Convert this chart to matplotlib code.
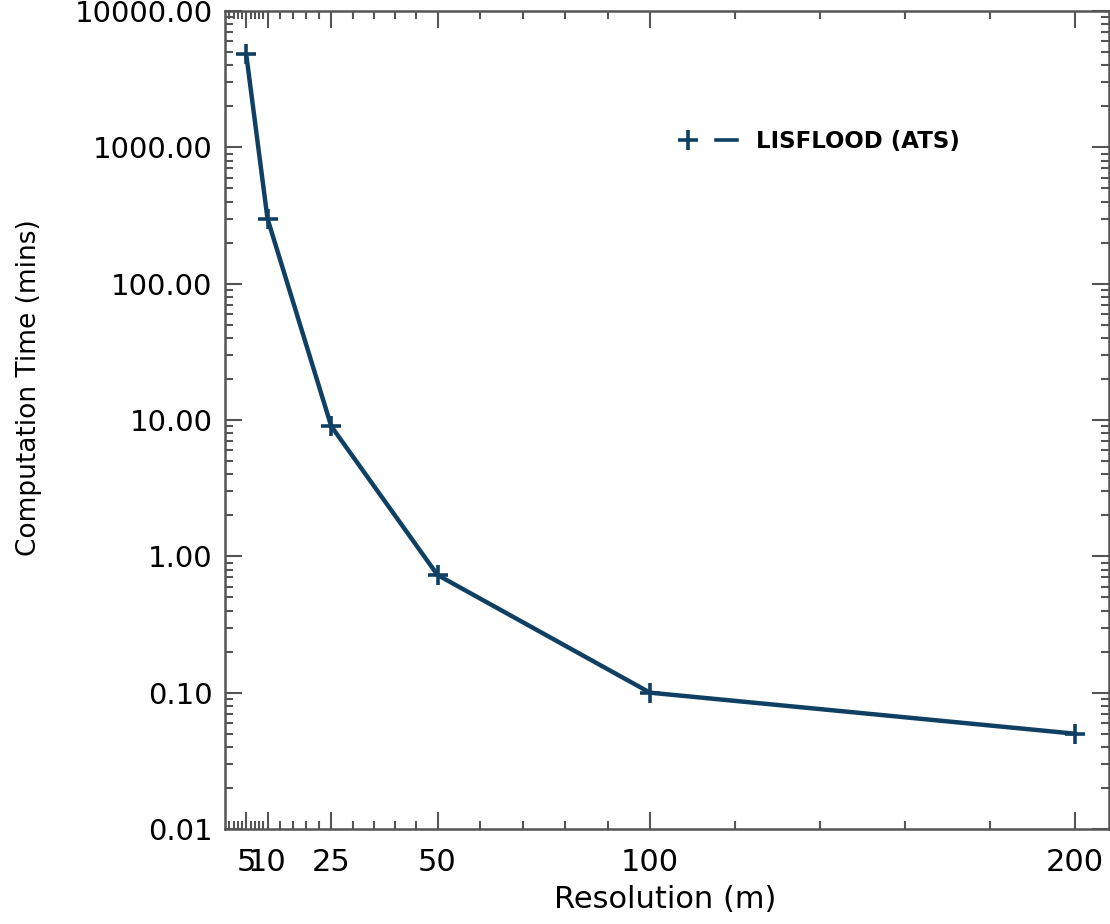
import numpy as np
import matplotlib.pyplot as plt
from matplotlib.lines import Line2D
from matplotlib.legend_handler import HandlerTuple
from matplotlib.ticker import FixedLocator, LogLocator, FuncFormatter, NullFormatter

# data
resolution = [5, 10, 25, 50, 100, 200]
comp_time = [4800, 300, 9.0, 0.73, 0.10, 0.05]
xtick_major = [5, 10, 25, 50, 100, 200]
xtick_minor = [1, 2, 3, 4, 6, 7, 8, 9, 13, 16, 19, 22, 30, 35, 40, 45,
               60, 70, 80, 90, 120, 140, 160, 180]
series_name = "LISFLOOD (ATS)"

navy = '#0f4063'
gray = '#555555'

plt.rcParams['font.family'] = ['DejaVu Sans']

fig = plt.figure(figsize=(11.1, 9.24), dpi=100)
ax = fig.add_axes([225/1110, 95/924, 884/1110, 818/924])

ax.plot(resolution, comp_time, color=navy, lw=3.2, marker='+', ms=15, mew=2.6)

ax.set_yscale('log')
ax.set_xlim(0, 208)
ax.set_ylim(0.01, 10000)

ax.xaxis.set_major_locator(FixedLocator(xtick_major))
ax.xaxis.set_minor_locator(FixedLocator(xtick_minor))
ax.yaxis.set_major_locator(LogLocator(base=10))
ax.yaxis.set_minor_locator(LogLocator(base=10, subs=np.arange(2, 10)))
ax.yaxis.set_major_formatter(FuncFormatter(lambda v, p: "%.2f" % v))
ax.yaxis.set_minor_formatter(NullFormatter())

ax.tick_params(which='both', direction='in', top=True, right=True, color=gray, width=1.5)
ax.tick_params(which='major', length=12)
ax.tick_params(which='minor', length=6)
ax.tick_params(axis='x', which='major', labelsize=22, pad=14)
ax.tick_params(axis='y', which='major', labelsize=21, pad=9)
for s in ax.spines.values():
    s.set_color(gray)
    s.set_linewidth(1.8)

ax.set_xlabel("Resolution (m)", fontsize=22)
ax.set_ylabel("Computation Time (mins)", fontsize=19)
ax.xaxis.set_label_coords(0.498, -0.068)
ax.yaxis.set_label_coords(-0.207, 0.54)

h_mark = Line2D([], [], color=navy, ls='none', marker='+', ms=15, mew=2.6)
h_line = Line2D([], [], color=navy, lw=2.6)
ax.legend([(h_mark, h_line)], [series_name],
          handler_map={tuple: HandlerTuple(ndivide=None, pad=0.75)},
          loc='center left', bbox_to_anchor=(0.512, 0.84), frameon=False,
          borderpad=0, borderaxespad=0, handlelength=2.6, handletextpad=0.8,
          prop={'family': 'DejaVu Sans', 'weight': 'bold', 'size': 16.5})

fig.savefig("out.png", dpi=100)
